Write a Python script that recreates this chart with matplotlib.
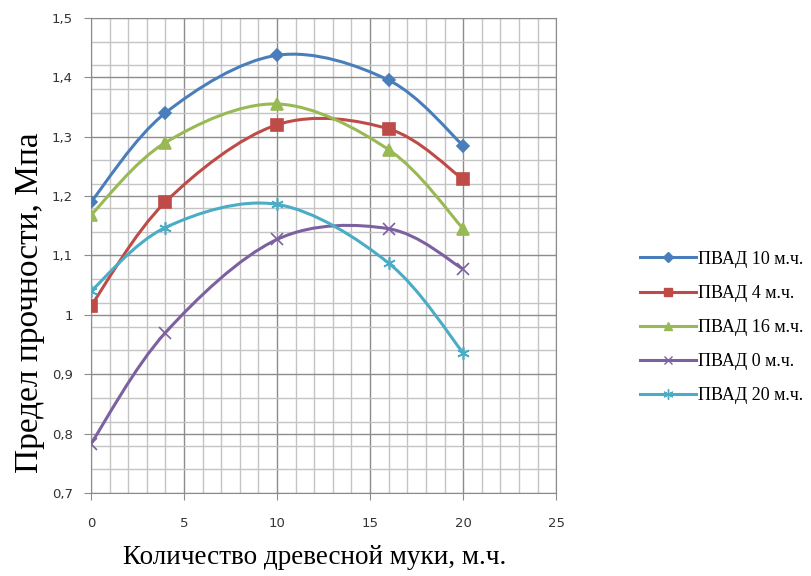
import matplotlib.pyplot as plt
import numpy as np
from matplotlib.path import Path
from matplotlib.patches import PathPatch
from matplotlib.ticker import MultipleLocator, FuncFormatter

# количество древесной муки, м.ч.
x = [0, 4, 10, 16, 20]

pvad_10 = [1.19, 1.34, 1.437, 1.395, 1.285]
pvad_4 = [1.015, 1.19, 1.32, 1.313, 1.228]
pvad_16 = [1.168, 1.29, 1.355, 1.278, 1.145]
pvad_0 = [0.783, 0.97, 1.127, 1.145, 1.077]
pvad_20 = [1.04, 1.147, 1.186, 1.087, 0.936]

names = ['ПВАД 10 м.ч.', 'ПВАД 4 м.ч.', 'ПВАД 16 м.ч.', 'ПВАД 0 м.ч.', 'ПВАД 20 м.ч.']
series = [pvad_10, pvad_4, pvad_16, pvad_0, pvad_20]
colors = ['#4A7EBB', '#BE4B48', '#98B954', '#7D60A0', '#4BACC6']
markers = ['D', 's', '^', 'x', (6, 2, 0)]
msizes = [6, 8, 8, 8, 9]


# сглаженная линия как в Excel (кривые Безье через точки)
def smooth_path(xs, ys):
    pts = np.column_stack([xs, ys]).astype(float)
    n = len(pts)
    verts = [pts[0]]
    codes = [Path.MOVETO]
    for i in range(n - 1):
        p0 = pts[i - 1] if i > 0 else pts[i]
        p1 = pts[i]
        p2 = pts[i + 1]
        p3 = pts[i + 2] if i + 2 < n else pts[i + 1]
        c1 = p1 + (p2 - p0) / 6.0
        c2 = p2 - (p3 - p1) / 6.0
        verts += [c1, c2, p2]
        codes += [Path.CURVE4] * 3
    return Path(verts, codes)


fig = plt.figure(figsize=(8.12, 5.76), dpi=100)
ax = fig.add_axes([0.112, 0.144, 0.573, 0.825])

for ys, name, c, m, ms in zip(series, names, colors, markers, msizes):
    patch = PathPatch(smooth_path(x, ys), facecolor='none', edgecolor=c, lw=2.2, zorder=3)
    ax.add_patch(patch)
    ax.plot(x, ys, linestyle='none', marker=m, color=c, markersize=ms,
            markeredgewidth=1.2, zorder=4)
    # элемент легенды
    ax.plot([], [], color=c, lw=2.2, marker=m, markersize=ms * 0.8,
            markeredgewidth=1.0, label=name)

ax.set_xlim(0, 25)
ax.set_ylim(0.7, 1.5)
ax.xaxis.set_major_locator(MultipleLocator(5))
ax.xaxis.set_minor_locator(MultipleLocator(1))
ax.yaxis.set_major_locator(MultipleLocator(0.1))
ax.yaxis.set_minor_locator(MultipleLocator(0.04, offset=0.7))
ax.yaxis.set_major_formatter(FuncFormatter(lambda v, p: ('%g' % round(v, 2)).replace('.', ',')))

ax.grid(which='major', color='#8c8c8c', lw=1.0)
ax.grid(which='minor', color='#c4c4c4', lw=1.0)
ax.set_axisbelow(True)
for s in ax.spines.values():
    s.set_color('#8c8c8c')
ax.tick_params(which='major', length=5, color='#8c8c8c', labelsize=9.5, pad=8,
               labelcolor='#333333')
ax.tick_params(which='minor', length=0)
ax.tick_params(axis='x', pad=12)

serif = 'Liberation Serif'
ax.set_ylabel('Предел прочности, Мпа', fontsize=24, family=serif)
ax.yaxis.set_label_coords(-0.098, 0.40)
ax.set_xlabel('Количество древесной муки, м.ч.', fontsize=19.5, family=serif)
ax.xaxis.set_label_coords(0.48, -0.11)

leg = ax.legend(loc='upper left', bbox_to_anchor=(1.181, 0.51), frameon=False,
                prop={'family': serif, 'size': 13}, handlelength=3.1,
                labelspacing=0.95, handletextpad=0.1, borderpad=0, borderaxespad=0)

plt.savefig('out.png', dpi=100)
